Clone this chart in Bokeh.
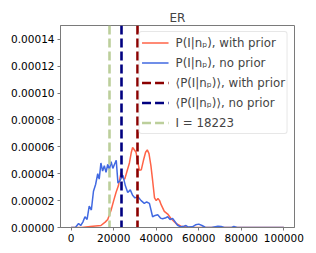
from bokeh.plotting import figure
from bokeh.models import Range1d, FixedTicker, PrintfTickFormatter, Legend, LegendItem
from bokeh.embed import file_html
from bokeh.resources import INLINE

# ---- data ----
blue_x = [0, 2000, 3500, 4500, 5500, 6500, 7500, 8500, 9500, 10500, 11500, 12500, 13200,
          14000, 14800, 15600, 16400, 17200, 18000, 18800, 19600, 20400, 21200, 22000,
          23000, 24300, 25500, 26600, 27800, 28900, 30000, 31300, 32900, 34400, 35500,
          36800, 38300, 39500, 40700, 42000, 43000, 44200, 45400, 46500, 47700, 49000,
          50000, 51500, 53000, 54000, 55000, 57000, 58500, 60000, 61500, 63000, 66000,
          69000, 70500, 72000, 75500, 76500, 78000, 100000]
blue_y = [0, 0, 3e-6, 1.5e-6, 4e-6, 8e-6, 6e-6, 16e-6, 13e-6, 27e-6, 32e-6, 40e-6, 36e-6,
          48e-6, 42e-6, 46e-6, 41e-6, 47e-6, 43e-6, 49e-6, 44e-6, 47e-6, 50e-6, 33e-6,
          35e-6, 39e-6, 31e-6, 26e-6, 28e-6, 24e-6, 22e-6, 23e-6, 20e-6, 18e-6, 19e-6,
          18e-6, 8e-6, 9e-6, 9.5e-6, 7e-6, 6.5e-6, 7e-6, 8e-6, 6e-6, 6.8e-6, 4e-6,
          1.7e-6, 0.5e-6, 1e-6, 1.5e-6, 0.3e-6, 0.5e-6, 2e-6, 2.5e-6, 1.5e-6, 0.2e-6, 0,
          1e-6, 0.8e-6, 0, 0, 0.8e-6, 0, 0]

red_x = [0, 5000, 9000, 14000, 16000, 17200, 18800, 20000, 21100, 22200, 23500, 24300,
         25200, 26300, 27400, 28300, 28900, 29600, 30500, 31300, 32100, 33000, 34000,
         35000, 35800, 36600, 37500, 38300, 39200, 40000, 40800, 41600, 42300, 43800,
         45400, 46900, 48000, 49300, 51600, 55000, 57000, 100000]
red_y = [0, 0, 0.8e-6, 1.5e-6, 4e-6, 6e-6, 13e-6, 20e-6, 26e-6, 31e-6, 41e-6, 37e-6,
         36e-6, 42e-6, 48e-6, 56e-6, 59.5e-6, 58e-6, 56e-6, 49e-6, 42.5e-6, 43e-6, 50e-6,
         56e-6, 57.8e-6, 55e-6, 46e-6, 35e-6, 22e-6, 20e-6, 21.5e-6, 20e-6, 17e-6, 12e-6,
         10e-6, 6.7e-6, 5e-6, 3e-6, 1e-6, 0.2e-6, 0, 0]

mean_with_prior = [31000]
mean_no_prior = [23800]
observed_I = [18223]

x_ticks = [0, 20000, 40000, 60000, 80000, 100000]
y_ticks = [0, 0.00002, 0.00004, 0.00006, 0.00008, 0.00010, 0.00012, 0.00014]

labels = ["P(I|nₚ), with prior", "P(I|nₚ), no prior",
          "⟨P(I|nₚ)⟩, with prior", "⟨P(I|nₚ)⟩, no prior", "I = 18223"]

FONT = "DejaVu Sans"
GRAY = "#7a7a7a"

p = figure(width=310, height=250, output_backend="svg", toolbar_location=None,
           x_range=Range1d(-5000, 105000), y_range=Range1d(0, 0.0001503),
           min_border_left=60, min_border_right=16, min_border_top=25, min_border_bottom=23)

p.title.text = "ER"
p.title.align = "center"
p.title.text_font = FONT
p.title.text_font_size = "12px"
p.title.text_font_style = "normal"
p.title.standoff = 1
p.title.offset = 0

p.xgrid.visible = False
p.ygrid.visible = False
p.outline_line_color = GRAY
p.outline_line_width = 1
p.background_fill_color = "white"
p.border_fill_color = "white"

for ax in (p.xaxis[0], p.yaxis[0]):
    ax.axis_line_color = GRAY
    ax.major_tick_line_color = GRAY
    ax.minor_tick_line_color = None
    ax.major_tick_out = 3
    ax.major_tick_in = 0
    ax.major_label_text_font = FONT
    ax.major_label_text_font_size = "10.5px"
    ax.major_label_text_color = "black"
    ax.major_label_standoff = 3

p.xaxis.ticker = FixedTicker(ticks=x_ticks)
p.xaxis.formatter = PrintfTickFormatter(format="%d")
p.yaxis.ticker = FixedTicker(ticks=y_ticks)
p.yaxis.formatter = PrintfTickFormatter(format="%.5f")

r_red = p.line(red_x, red_y, line_color="#ff6347", line_width=1.5)
r_blue = p.line(blue_x, blue_y, line_color="#4169e1", line_width=1.5)
r_m1 = p.vspan(x=mean_with_prior, line_color="#8b0000", line_width=2.6, line_dash="9 4")
r_m2 = p.vspan(x=mean_no_prior, line_color="#000080", line_width=2.6, line_dash="9 4")
r_i = p.vspan(x=observed_I, line_color="#bccf9b", line_width=2.6, line_dash="9 4")

legend = Legend(items=[LegendItem(label=labels[0], renderers=[r_red]),
                       LegendItem(label=labels[1], renderers=[r_blue]),
                       LegendItem(label=labels[2], renderers=[r_m1]),
                       LegendItem(label=labels[3], renderers=[r_m2]),
                       LegendItem(label=labels[4], renderers=[r_i])],
                location="top_right")
legend.label_text_font = FONT
legend.label_text_font_size = "11.8px"
legend.glyph_width = 27
legend.glyph_height = 17
legend.label_height = 17
legend.label_standoff = 7
legend.spacing = 3
legend.padding = 2
legend.margin = 6
legend.border_line_color = "#d0d0d0"
legend.background_fill_alpha = 0.8
legend.border_radius = 3
p.add_layout(legend)

open("out.html", "w").write(file_html(p, INLINE))
